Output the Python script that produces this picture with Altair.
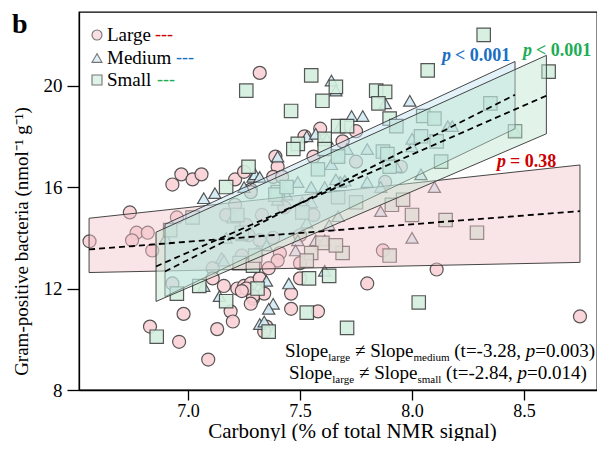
import altair as alt
import pandas as pd

# ---------------- data ----------------
large_x = [6.56, 6.74, 6.77, 6.82, 6.75, 6.84, 6.95, 6.93, 6.97, 7.02, 7.06, 7.17, 7.21, 7.25, 7.28,
           7.21, 7.11, 7.11, 6.93, 7.16, 7.22, 7.25, 7.28, 7.29, 6.98, 7.19, 7.20, 7.13, 6.83, 6.96,
           7.09, 7.32, 7.59, 7.52, 7.69, 7.56, 7.39, 7.40, 7.38, 7.42, 7.75, 7.28, 7.33, 7.43, 7.56,
           7.26, 7.32, 7.38, 7.41, 7.40, 7.50, 7.50, 7.88, 7.87, 7.80, 7.50, 7.46, 7.46, 7.58, 7.34,
           7.29, 7.26, 7.32, 7.35, 7.34, 8.11, 8.75, 7.24, 7.30, 7.36, 7.27, 7.28, 7.24, 7.95, 7.75]
large_y = [13.86, 15.0, 14.2, 14.2, 13.9, 13.5, 14.8, 16.1, 16.5, 16.3, 16.5, 14.9, 16.3, 16.6, 15.9,
           15.3, 12.8, 12.4, 12.2, 12.1, 12.0, 12.1, 12.2, 11.6, 11.0, 11.1, 10.7, 10.4, 10.5, 9.9,
           9.2, 20.5, 18.3, 18.0, 17.8, 17.2, 17.2, 16.8, 16.4, 16.4, 17.0, 15.8, 14.9, 15.2, 14.9,
           14.5, 13.9, 14.0, 13.4, 13.1, 14.1, 13.0, 16.2, 13.5, 12.2, 12.4, 11.8, 11.2, 11.1, 11.8,
           11.7, 12.0, 12.4, 10.5, 10.3, 12.75, 10.9, 13.3, 12.9, 12.8, 14.1, 11.4, 11.9, 16.8, 18.2]

medium_x = [6.90, 7.07, 7.12, 7.25, 7.29, 7.20, 7.17, 7.15, 7.24, 7.07, 7.14, 7.16, 7.32, 7.64, 7.66,
            7.88, 7.99, 7.73, 7.78, 7.68, 7.53, 7.57, 7.62, 7.71, 7.80, 7.67, 7.64, 7.88, 7.90, 7.93,
            7.40, 7.30, 7.32, 8.04, 8.00, 7.49, 7.44, 7.40, 7.55, 7.61, 7.51, 7.55, 7.80, 7.86, 7.67,
            7.63, 7.53, 7.49, 7.57, 7.61, 7.48, 7.61, 7.45, 7.38, 7.36, 7.34, 7.35, 7.31, 7.35, 7.86,
            8.00, 8.16, 8.18, 8.46, 8.10, 7.68, 7.66, 7.70, 8.00]
medium_y = [13.98, 15.56, 15.76, 16.0, 16.4, 14.8, 14.0, 13.2, 14.1, 12.1, 11.7, 13.1, 10.6, 20.2, 19.8,
            19.3, 19.4, 18.8, 18.8, 18.4, 18.0, 18.1, 17.9, 17.5, 17.5, 17.2, 16.9, 17.4, 16.8, 16.8,
            17.2, 16.5, 16.4, 16.5, 17.6, 16.2, 15.7, 15.5, 16.0, 16.0, 15.4, 15.4, 16.2, 16.0, 14.85,
            14.5, 14.6, 13.9, 13.9, 13.9, 13.5, 12.7, 12.2, 11.4, 11.2, 10.7, 12.3, 13.5, 13.7, 15.05,
            14.0, 18.4, 18.4, 18.2, 16.0, 16.2, 16.3, 16.25, 17.9]

small_x = [6.86, 6.95, 7.05, 7.17, 7.23, 7.31, 7.02, 7.17, 7.27, 6.92, 7.22, 7.24, 7.55, 7.66, 7.84,
           7.88, 7.85, 7.60, 7.46, 7.90, 7.93, 7.67, 7.71, 7.61, 7.49, 7.47, 7.61, 7.67, 7.87, 7.89,
           8.05, 8.04, 8.07, 7.26, 7.90, 7.40, 7.51, 7.67, 7.75, 7.91, 7.96, 8.00, 7.60, 7.69, 7.90,
           7.55, 7.53, 7.54, 7.63, 7.53, 7.71, 7.36, 7.29, 7.30, 8.03, 8.13, 8.15, 8.29, 7.66, 7.39,
           8.32, 8.61, 8.35, 8.10, 8.11, 8.46, 7.44, 7.58]
small_y = [10.1, 11.8, 12.1, 11.5, 13.0, 12.0, 14.8, 16.0, 16.8, 14.3, 14.9, 14.2, 20.4, 19.95, 19.8,
           19.75, 19.3, 19.4, 19.0, 18.7, 18.4, 18.4, 18.4, 17.9, 17.7, 17.5, 17.5, 17.2, 17.4, 17.3,
           18.8, 18.0, 20.6, 19.8, 16.8, 15.8, 15.0, 15.6, 15.4, 15.3, 15.5, 14.9, 13.8, 13.4, 13.3,
           13.4, 13.1, 12.4, 12.5, 11.05, 10.45, 10.3, 12.9, 13.3, 11.45, 17.0, 14.7, 14.2, 13.7, 15.7,
           22.0, 20.55, 19.3, 18.7, 17.8, 18.2, 16.0, 16.7]

# confidence bands (left / right ends) and fitted lines
band_group = ["Large", "Large", "Medium", "Medium", "Small", "Small"]
band_x = [6.558, 8.75, 6.897, 8.46, 6.857, 8.60]
band_lo = [12.63, 13.03, 11.68, 18.30, 11.49, 18.10]
band_hi = [14.77, 16.87, 14.53, 20.95, 14.22, 21.19]
band_mid = [13.54, 15.05, 12.67, 19.64, 12.87, 19.60]

x_ticks = [7.0, 7.5, 8.0, 8.5]
y_ticks = [8, 12, 16, 20]

FONT = "Liberation Serif"
fills = {"Large": "#f9d2d6", "Medium": "#d3ebf5", "Small": "#d3eedf"}
bandfill = {"Large": "#f2c4c9", "Medium": "#bfe2f0", "Small": "#bfe5d0"}
txtcol = {"Large": "#cc0000", "Medium": "#1a6fc4", "Small": "#1eac55"}

OX = 79  # page x of plot's left edge (8px margin + left padding)

xs = alt.Scale(domain=[6.513, 8.826], nice=False, zero=False)
ys = alt.Scale(domain=[8, 22.9], nice=False, zero=False)


def X(field="x"):
    return alt.X(f"{field}:Q", scale=xs,
                 axis=alt.Axis(values=x_ticks, format=".1f", titleX=352 - OX,
                               titleY=47, titleBaseline="alphabetic", titleFontSize=21,
                               labelFontSize=18, labelPadding=2,
                               title="Carbonyl (% of total NMR signal)"))


def Y(field="y"):
    return alt.Y(f"{field}:Q", scale=ys,
                 axis=alt.Axis(values=y_ticks, format="d", titleY=229, titleFontSize=19,
                               title="Gram-positive bacteria (nmol⁻¹ g⁻¹)"))


layers = []
for name, gx, gy, shape in [("Large", large_x, large_y, "circle"),
                            ("Medium", medium_x, medium_y, "triangle-up"),
                            ("Small", small_x, small_y, "square")]:
    df = pd.DataFrame({"x": gx, "y": gy})
    size = 170 if shape == "circle" else (150 if shape == "triangle-up" else 180)
    layers.append(alt.Chart(df).mark_point(shape=shape, filled=True, fill=fills[name],
                                           stroke="#3a3a3a", strokeWidth=1.2, size=size,
                                           fillOpacity=0.9, strokeOpacity=0.85)
                  .encode(x=X(), y=Y()))

bands = pd.DataFrame({"g": band_group, "x": band_x, "lo": band_lo, "hi": band_hi, "mid": band_mid})
for name in ["Large", "Medium", "Small"]:
    d = bands[bands.g == name]
    layers.append(alt.Chart(d).mark_area(fill=bandfill[name], fillOpacity=0.45,
                                         stroke="#333333", strokeWidth=1, strokeOpacity=0.9)
                  .encode(x=X(), y=Y("lo"), y2=alt.Y2("hi")))
for name in ["Large", "Medium", "Small"]:
    d = bands[bands.g == name]
    layers.append(alt.Chart(d).mark_line(color="black", strokeDash=[6, 4], strokeWidth=1.8)
                  .encode(x=X(), y=Y("mid")))

one = pd.DataFrame({"k": [0]})


def txt(text, px, y, size=19, weight="normal", style="normal", color="black",
        align="left", baseline="alphabetic"):
    # px is the page x position; converted to plot coordinates
    return (alt.Chart(one)
            .mark_text(text=text, font=FONT, fontSize=size, fontWeight=weight,
                       fontStyle=style, color=color, align=align, baseline=baseline)
            .encode(x=alt.value(px - OX), y=alt.value(y)))


# panel letter
layers.append(txt("b", 12, 21, size=28, weight="bold"))

# legend
leg = [("Large", "circle", 23, 155), ("Medium", "triangle-up", 46, 176), ("Small", "square", 68, 157)]
for name, shape, yy, dashx in leg:
    layers.append(alt.Chart(one).mark_point(shape=shape, filled=True, fill=fills[name],
                                            stroke="#3a3a3a", strokeWidth=1.1, size=100)
                  .encode(x=alt.value(97 - OX), y=alt.value(yy)))
    layers.append(txt(name, 107, yy, size=19, baseline="middle"))
    layers.append(txt("---", dashx, yy, size=18, color=txtcol[name], baseline="middle"))

# p-values
for col, px, py, rest in [("Medium", 442, 44, "< 0.001"), ("Small", 523, 39, "< 0.001"),
                          ("Large", 497, 150, "= 0.38")]:
    layers.append(txt("p", px, py, size=18, weight="bold", style="italic",
                      color=txtcol[col], baseline="middle"))
    layers.append(txt(rest, px + 13, py, size=18, weight="bold",
                      color=txtcol[col], baseline="middle"))

# slope comparison annotation: pieces laid out with Times-metric advance widths
W = {"S": 556, "l": 278, "o": 500, "p": 500, "e": 444, "a": 444, "r": 333, "g": 500,
     "m": 778, "d": 500, "i": 278, "u": 500, "s": 389, " ": 250, "(": 333, ")": 333,
     "t": 278, "=": 564, "-": 333, "3": 500, ".": 250, "2": 500, "8": 500, ",": 250,
     "0": 500, "1": 500, "4": 500, "≠": 549}


def width(s, size):
    return sum(W.get(c, 500) for c in s) * size / 1000.0


SZ, SUB = 19, 11
rows = [(345, 349, 285, "medium", "(t=-3.28, ", "=0.003)"),
        (367, 371, 289, "small", "(t=-2.84, ", "=0.014)")]
for b, sb, x0, sub2, tpart, pval in rows:
    pieces = [("Slope", SZ, b, "normal"), ("large", SUB, sb, "normal"),
              (" ≠ ", SZ, b, "normal"), ("Slope", SZ, b, "normal"),
              (sub2, SUB, sb, "normal"), (" " + tpart, SZ, b, "normal"),
              ("p", SZ, b, "italic"), (pval, SZ, b, "normal")]
    cx = x0
    for s, sz, yy, st in pieces:
        lead = len(s) - len(s.lstrip(" "))
        layers.append(txt(s.strip(), cx + lead * width(" ", sz), yy, size=sz, style=st))
        cx += width(s, sz)

chart = (alt.layer(*layers)
         .properties(width=518, height=378,
                     autosize=alt.AutoSizeParams(type="none"),
                     padding={"left": OX - 8, "top": 4, "right": 0, "bottom": 51})
         .configure_view(stroke="black", strokeWidth=1.3)
         .configure_axis(labelFont=FONT, titleFont=FONT, labelFontSize=19, titleFontSize=20,
                         titleFontWeight="normal", labelColor="black", titleColor="black",
                         domainColor="black", tickColor="black", domainWidth=1.3, tickWidth=1.3,
                         grid=False, tickSize=10)
         .configure_axisY(labelPadding=5, titlePadding=12, tickSize=12))

chart.save("out.html", embed_options={"renderer": "svg", "actions": False})
